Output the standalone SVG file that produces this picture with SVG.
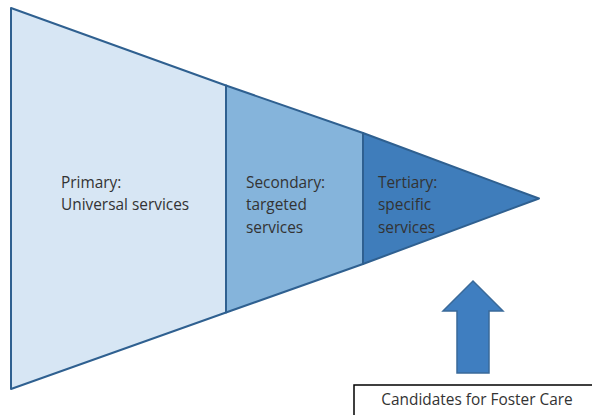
<svg xmlns="http://www.w3.org/2000/svg" width="592" height="415" viewBox="0 0 592 415">
<style>
.seg{stroke:#2F6090;stroke-width:2;stroke-linejoin:round}
.lbl{font-family:"Open Sans","Liberation Sans",sans-serif;font-size:15.4px;fill:#333333}
</style>
<rect width="592" height="415" fill="#ffffff"/>
<g id="primary">
<polygon class="seg" fill="#D7E6F4" points="11,8 226,85.5 226,312.5 11,389"/>
<text class="lbl" x="61" y="188">Primary:</text>
<text class="lbl" x="61" y="210">Universal services</text>
</g>
<g id="secondary">
<polygon class="seg" fill="#85B4DB" points="226,85.5 363,133 363,264 226,312.5"/>
<text class="lbl" x="246" y="188">Secondary:</text>
<text class="lbl" x="246" y="210">targeted</text>
<text class="lbl" x="246" y="233">services</text>
</g>
<g id="tertiary">
<polygon class="seg" fill="#3F7DBB" points="363,133 539,198.5 363,264"/>
<text class="lbl" x="378" y="188">Tertiary:</text>
<text class="lbl" x="378" y="210">specific</text>
<text class="lbl" x="378" y="233">services</text>
</g>
<g id="connectors">
<polygon fill="#3F7EC0" stroke="#3A6A99" stroke-width="1.5" points="473,281 503,311 489,311 489,373 457,373 457,311 443,311"/>
</g>
<g id="candidates">
<rect x="354" y="385" width="250" height="40" fill="#ffffff" stroke="#000000" stroke-width="1.5"/>
<text class="lbl" x="477" y="405" text-anchor="middle" fill="#222222">Candidates for Foster Care</text>
</g>
</svg>
